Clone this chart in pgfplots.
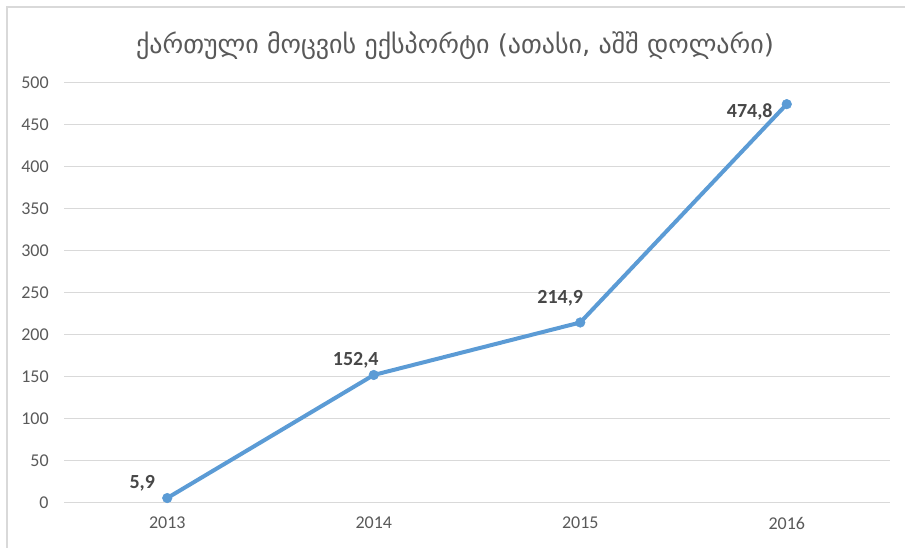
\documentclass[border=0pt]{standalone}
\usepackage{pgfplots}
\pgfplotsset{compat=1.18}
\usepackage{pgfplotstable}
\usepackage{fontspec}
\setmainfont{Carlito}
\newfontfamily\geofont{DejaVu Sans}
\definecolor{linecol}{HTML}{5B9BD5}
\definecolor{txtcol}{HTML}{595959}
\definecolor{gridcol}{HTML}{D9D9D9}
\pgfplotstableread{
x y lab dx dy
0 5.9 5,9 -18.75 11
1 152.4 152,4 -13.5 11
2 214.9 214,9 -15 18
3 474.8 474,8 -27.75 -6
}\datatable
\begin{document}
\begin{tikzpicture}
\useasboundingbox (0,0) rectangle (678.75pt,411pt);
\draw[gridcol, line width=0.9pt] (5.25pt,0) -- (5.25pt,405.75pt) -- (678.75pt,405.75pt);
\node[text=txtcol, font=\geofont\fontsize{19.5}{22}\selectfont] at (341.25pt,376.5pt) {ქართული მოცვის ექსპორტი (ათასი, აშშ დოლარი)};
\begin{axis}[
  at={(48pt,33.75pt)}, anchor=south west,
  width=619.5pt, height=315pt, scale only axis,
  xmin=-0.5, xmax=3.5, ymin=0, ymax=500,
  xtick={0,1,2,3}, xticklabels={2013,2014,2015,2016},
  ytick={0,50,...,500},
  ymajorgrids, grid style={gridcol, line width=0.75pt},
  axis line style={draw=none},
  axis x line*=bottom, axis y line*=left,
  x axis line style={draw=gridcol, line width=0.75pt},
  major tick length=0pt,
  tick label style={text=txtcol, font=\fontsize{13.5}{15}\selectfont},
  yticklabel style={xshift=-8pt},
  xticklabel style={yshift=-7pt},
  /pgf/number format/assume math mode=true,
  clip=false,
  nodes near coords,
  point meta=explicit symbolic,
  visualization depends on={\thisrow{dx}\as\dx},
  visualization depends on={\thisrow{dy}\as\dy},
  every node near coord/.append style={anchor=center, xshift=\dx pt, yshift=\dy pt, text=txtcol!80!black, font=\bfseries\fontsize{15}{17}\selectfont},
]
\addplot[linecol, line width=3pt, mark=*, mark size=3.6pt, mark options={solid, fill=linecol, draw=linecol, line width=0.4pt}] table[x=x, y=y, meta=lab] {\datatable};
\end{axis}
\end{tikzpicture}
\end{document}
